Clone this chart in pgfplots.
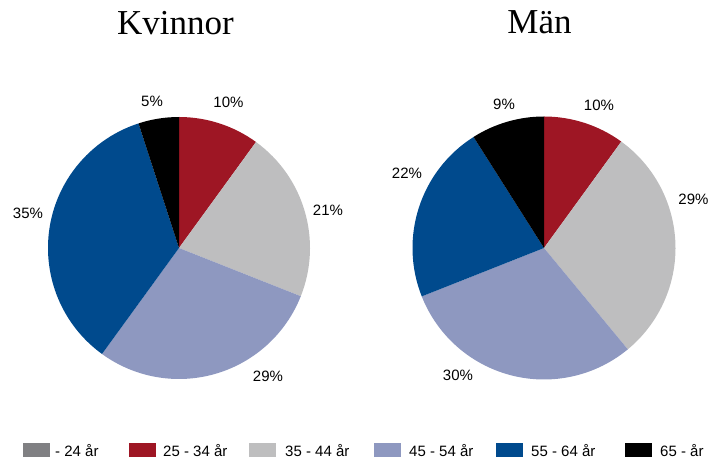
\documentclass[border=0pt]{standalone}
\usepackage{fontspec}
\setmainfont{Liberation Serif}
\newfontfamily\labelfont{Liberation Sans}
\usepackage{pgfplots}
\usepackage{pgfplotstable}
\pgfplotsset{compat=1.18}

% age groups: -24, 25-34, 35-44, 45-54, 55-64, 65-
\definecolor{c0}{RGB}{128,128,131}
\definecolor{c1}{RGB}{158,22,36}
\definecolor{c2}{RGB}{190,190,191}
\definecolor{c3}{RGB}{142,152,192}
\definecolor{c4}{RGB}{0,74,141}
\definecolor{c5}{RGB}{0,0,0}

\tikzset{lbl/.style={font=\labelfont\fontsize{15}{18}\selectfont, inner sep=0pt}}

\pgfplotstableread{
share
0
10
21
29
35
5
}\kvinnor

\pgfplotstableread{
share
0
10
29
30
22
9
}\man

% #1 table, #2 cx, #3 cy, #4 radius (axis units = pt)
\newcommand\drawpie[4]{%
  \def\cum{0}%
  \pgfplotsforeachungrouped \i in {0,...,5}{%
    \pgfplotstablegetelem{\i}{share}\of{#1}%
    \let\share\pgfplotsretval
    \pgfmathsetmacro\aa{90-3.6*\cum}%
    \pgfmathsetmacro\ab{90-3.6*(\cum+\share)}%
    \pgfmathsetmacro\cum{\cum+\share}%
    \ifdim\share pt>0pt
      \edef\temp{\noexpand\fill[c\i] (axis cs:#2,#3) -- ++(\aa:#4pt)
        arc[start angle=\aa, end angle=\ab, radius=#4pt] -- cycle;}%
      \temp
    \fi
  }%
}

\begin{document}
\begin{tikzpicture}
\begin{axis}[
  width=717pt, height=460pt, scale only axis,
  xmin=0, xmax=717, ymin=0, ymax=460,
  hide axis, clip=false,
]
\path (axis cs:0,0) rectangle (axis cs:717,460);

\drawpie{\kvinnor}{179}{212}{131}
\drawpie{\man}{544}{212}{131.5}

% titles
\node[font=\fontsize{35}{40}\selectfont, anchor=base] at (axis cs:175.5,425) {Kvinnor};
\node[font=\fontsize{35}{40}\selectfont, anchor=base] at (axis cs:539.5,426) {Män};

% slice labels
\node[lbl, anchor=base] at (axis cs:228.5,352) {10\%};
\node[lbl, anchor=base] at (axis cs:328,244) {21\%};
\node[lbl, anchor=base] at (axis cs:268,78) {29\%};
\node[lbl, anchor=base] at (axis cs:28,241) {35\%};
\node[lbl, anchor=base] at (axis cs:152,353) {5\%};

\node[lbl, anchor=base] at (axis cs:599,349) {10\%};
\node[lbl, anchor=base] at (axis cs:693.5,255) {29\%};
\node[lbl, anchor=base] at (axis cs:458,79) {30\%};
\node[lbl, anchor=base] at (axis cs:407,281) {22\%};
\node[lbl, anchor=base] at (axis cs:504,350) {9\%};

% legend
\fill[c0] (axis cs:23,3) rectangle (axis cs:50,17);
\node[lbl, anchor=base west] at (axis cs:55,3) {- 24 år};
\fill[c1] (axis cs:129,3) rectangle (axis cs:156,17);
\node[lbl, anchor=base west] at (axis cs:163,3) {25 - 34 år};
\fill[c2] (axis cs:249,3) rectangle (axis cs:276,17);
\node[lbl, anchor=base west] at (axis cs:285,3) {35 - 44 år};
\fill[c3] (axis cs:374,3) rectangle (axis cs:401,17);
\node[lbl, anchor=base west] at (axis cs:409,3) {45 - 54 år};
\fill[c4] (axis cs:496,3) rectangle (axis cs:523,17);
\node[lbl, anchor=base west] at (axis cs:531,3) {55 - 64 år};
\fill[c5] (axis cs:625,3) rectangle (axis cs:652,17);
\node[lbl, anchor=base west] at (axis cs:660,3) {65 - år};
\end{axis}
\end{tikzpicture}
\end{document}
